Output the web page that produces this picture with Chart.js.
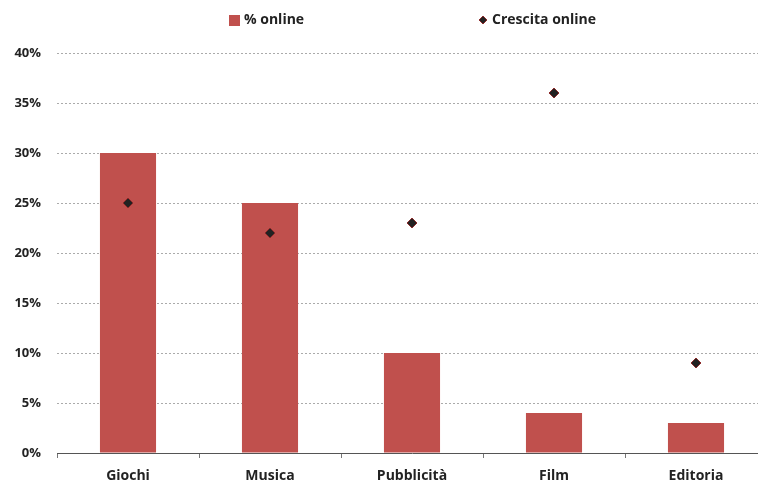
<!DOCTYPE html>
<html>
<head>
<meta charset="utf-8">
<script src="https://cdn.jsdelivr.net/npm/chart.js@4"></script>
<style>
  html, body { margin: 0; padding: 0; overflow: hidden; background: #fff; }
  #wrap { width: 773px; height: 481px; }
</style>
</head>
<body>
<div id="wrap"><canvas id="chart" width="773" height="481"></canvas></div>
<script>
const categories = ['Giochi', 'Musica', 'Pubblicità', 'Film', 'Editoria'];
const onlineShare = [30, 25, 10, 4, 3];
const onlineGrowth = [25, 22, 23, 36, 9];
const yTicks = [0, 5, 10, 15, 20, 25, 30, 35, 40];

const barColor = '#C0504D';
const pointFill = '#222222';
const pointEdge = '#8B2A2A';
const font = 'Open Sans, DejaVu Sans, sans-serif';

// legend drawn by hand so the two items sit far apart like the original
const legendPlugin = {
  id: 'spreadLegend',
  afterDraw(chart) {
    const ctx = chart.ctx;
    ctx.save();
    ctx.font = 'bold 14px ' + font;
    ctx.textBaseline = 'middle';
    ctx.fillStyle = barColor;
    ctx.fillRect(229, 15, 11, 11);
    ctx.fillStyle = '#222';
    ctx.fillText('% online', 244, 20);
    ctx.beginPath();
    ctx.moveTo(483, 16); ctx.lineTo(487, 20); ctx.lineTo(483, 24); ctx.lineTo(479, 20);
    ctx.closePath();
    ctx.fillStyle = pointFill;
    ctx.strokeStyle = pointEdge;
    ctx.lineWidth = 1;
    ctx.fill();
    ctx.stroke();
    ctx.fillStyle = '#222';
    ctx.fillText('Crescita online', 492, 20);
    ctx.restore();
  }
};

new Chart(document.getElementById('chart').getContext('2d'), {
  data: {
    labels: categories,
    datasets: [
      {
        type: 'line',
        label: 'Crescita online',
        data: onlineGrowth,
        showLine: false,
        pointStyle: 'rectRot',
        pointRadius: 5,
        pointBackgroundColor: pointFill,
        pointBorderColor: pointEdge,
        pointBorderWidth: 1,
        order: 0,
      },
      {
        type: 'bar',
        label: '% online',
        data: onlineShare,
        backgroundColor: barColor,
        barPercentage: 0.395,
        categoryPercentage: 1,
        order: 1,
      },
    ],
  },
  options: {
    responsive: false,
    animation: false,
    layout: { padding: { top: 53, right: 3, left: 0, bottom: 0 } },
    plugins: { legend: { display: false }, tooltip: { enabled: false } },
    scales: {
      x: {
        offset: true,
        afterFit: s => { s.height = 28; },
        grid: {
          offset: true,
          drawOnChartArea: false,
          tickLength: 5,
          color: '#777',
        },
        border: { color: '#555', width: 1 },
        ticks: {
          color: '#222',
          padding: 10,
          font: { family: font, size: 14, weight: 'bold' },
        },
      },
      y: {
        min: 0,
        max: 40,
        afterFit: s => { s.width = 57; },
        afterBuildTicks: s => { s.ticks = yTicks.map(v => ({ value: v })); },
        grid: {
          color: '#aaa',
          drawTicks: false,
          lineWidth: 1,
        },
        border: { display: false, dash: [2, 2] },
        ticks: {
          color: '#222',
          padding: 16,
          callback: v => v + '%',
          font: { family: font, size: 13, weight: 'bold' },
        },
      },
    },
  },
  plugins: [legendPlugin],
});
</script>
</body>
</html>
